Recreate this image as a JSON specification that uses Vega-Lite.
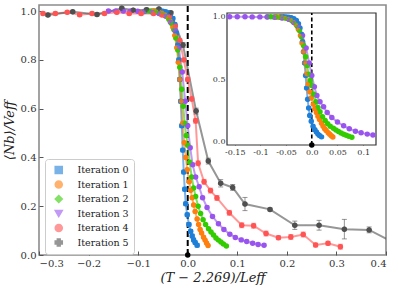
{
  "$schema": "https://vega.github.io/schema/vega-lite/v6.json",
  "width": 347,
  "height": 250,
  "autosize": {"type": "none"},
  "padding": {"left": 39, "top": 5, "right": 13, "bottom": 36},
  "background": "white",
  "config": {
    "view": {"stroke": "#8c8c8c", "strokeWidth": 1.6},
    "axis": {"grid": false, "labelFont": "DejaVu Serif", "titleFont": "DejaVu Serif", "labelColor": "#333", "titleColor": "#222", "tickColor": "#555", "domain": false, "labelFontSize": 10}
  },
  "datasets": {
    "d": [
      {"s": "Iteration 0", "x": -0.060, "y": 1.0, "e": 0},
      {"s": "Iteration 0", "x": -0.055, "y": 1.0, "e": 0},
      {"s": "Iteration 0", "x": -0.050, "y": 0.999, "e": 0},
      {"s": "Iteration 0", "x": -0.045, "y": 0.997, "e": 0},
      {"s": "Iteration 0", "x": -0.040, "y": 0.993, "e": 0},
      {"s": "Iteration 0", "x": -0.035, "y": 0.985, "e": 0},
      {"s": "Iteration 0", "x": -0.030, "y": 0.97, "e": 0},
      {"s": "Iteration 0", "x": -0.026, "y": 0.945, "e": 0},
      {"s": "Iteration 0", "x": -0.023, "y": 0.91, "e": 0},
      {"s": "Iteration 0", "x": -0.020, "y": 0.86, "e": 0},
      {"s": "Iteration 0", "x": -0.018, "y": 0.80, "e": 0},
      {"s": "Iteration 0", "x": -0.016, "y": 0.72, "e": 0},
      {"s": "Iteration 0", "x": -0.014, "y": 0.63, "e": 0},
      {"s": "Iteration 0", "x": -0.012, "y": 0.53, "e": 0},
      {"s": "Iteration 0", "x": -0.010, "y": 0.43, "e": 0},
      {"s": "Iteration 0", "x": -0.008, "y": 0.34, "e": 0},
      {"s": "Iteration 0", "x": -0.006, "y": 0.27, "e": 0},
      {"s": "Iteration 0", "x": -0.004, "y": 0.21, "e": 0},
      {"s": "Iteration 0", "x": -0.001, "y": 0.165, "e": 0},
      {"s": "Iteration 0", "x": 0.0025, "y": 0.125, "e": 0},
      {"s": "Iteration 0", "x": 0.006, "y": 0.097, "e": 0},
      {"s": "Iteration 0", "x": 0.009, "y": 0.078, "e": 0},
      {"s": "Iteration 0", "x": 0.012, "y": 0.062, "e": 0},
      {"s": "Iteration 0", "x": 0.015, "y": 0.051, "e": 0},
      {"s": "Iteration 0", "x": 0.019, "y": 0.040, "e": 0},

      {"s": "Iteration 1", "x": -0.070, "y": 1.0, "e": 0},
      {"s": "Iteration 1", "x": -0.064, "y": 0.999, "e": 0},
      {"s": "Iteration 1", "x": -0.058, "y": 0.997, "e": 0},
      {"s": "Iteration 1", "x": -0.052, "y": 0.993, "e": 0},
      {"s": "Iteration 1", "x": -0.046, "y": 0.986, "e": 0},
      {"s": "Iteration 1", "x": -0.040, "y": 0.975, "e": 0},
      {"s": "Iteration 1", "x": -0.035, "y": 0.96, "e": 0},
      {"s": "Iteration 1", "x": -0.030, "y": 0.935, "e": 0},
      {"s": "Iteration 1", "x": -0.026, "y": 0.90, "e": 0},
      {"s": "Iteration 1", "x": -0.022, "y": 0.85, "e": 0},
      {"s": "Iteration 1", "x": -0.019, "y": 0.79, "e": 0},
      {"s": "Iteration 1", "x": -0.016, "y": 0.72, "e": 0},
      {"s": "Iteration 1", "x": -0.013, "y": 0.63, "e": 0},
      {"s": "Iteration 1", "x": -0.010, "y": 0.54, "e": 0},
      {"s": "Iteration 1", "x": -0.007, "y": 0.46, "e": 0},
      {"s": "Iteration 1", "x": -0.004, "y": 0.40, "e": 0},
      {"s": "Iteration 1", "x": -0.001, "y": 0.35, "e": 0},
      {"s": "Iteration 1", "x": 0.003, "y": 0.30, "e": 0},
      {"s": "Iteration 1", "x": 0.006, "y": 0.265, "e": 0},
      {"s": "Iteration 1", "x": 0.009, "y": 0.235, "e": 0},
      {"s": "Iteration 1", "x": 0.012, "y": 0.205, "e": 0},
      {"s": "Iteration 1", "x": 0.015, "y": 0.178, "e": 0},
      {"s": "Iteration 1", "x": 0.019, "y": 0.148, "e": 0},
      {"s": "Iteration 1", "x": 0.022, "y": 0.125, "e": 0},
      {"s": "Iteration 1", "x": 0.025, "y": 0.105, "e": 0},
      {"s": "Iteration 1", "x": 0.028, "y": 0.09, "e": 0},
      {"s": "Iteration 1", "x": 0.032, "y": 0.073, "e": 0},
      {"s": "Iteration 1", "x": 0.035, "y": 0.061, "e": 0},
      {"s": "Iteration 1", "x": 0.038, "y": 0.049, "e": 0},
      {"s": "Iteration 1", "x": 0.041, "y": 0.039, "e": 0},

      {"s": "Iteration 2", "x": -0.086, "y": 1.0, "e": 0},
      {"s": "Iteration 2", "x": -0.080, "y": 1.0, "e": 0},
      {"s": "Iteration 2", "x": -0.074, "y": 0.999, "e": 0},
      {"s": "Iteration 2", "x": -0.068, "y": 0.998, "e": 0},
      {"s": "Iteration 2", "x": -0.062, "y": 0.996, "e": 0},
      {"s": "Iteration 2", "x": -0.056, "y": 0.993, "e": 0},
      {"s": "Iteration 2", "x": -0.050, "y": 0.988, "e": 0},
      {"s": "Iteration 2", "x": -0.044, "y": 0.98, "e": 0},
      {"s": "Iteration 2", "x": -0.038, "y": 0.967, "e": 0},
      {"s": "Iteration 2", "x": -0.033, "y": 0.95, "e": 0},
      {"s": "Iteration 2", "x": -0.028, "y": 0.925, "e": 0},
      {"s": "Iteration 2", "x": -0.024, "y": 0.89, "e": 0},
      {"s": "Iteration 2", "x": -0.020, "y": 0.84, "e": 0},
      {"s": "Iteration 2", "x": -0.016, "y": 0.77, "e": 0},
      {"s": "Iteration 2", "x": -0.012, "y": 0.68, "e": 0},
      {"s": "Iteration 2", "x": -0.009, "y": 0.61, "e": 0},
      {"s": "Iteration 2", "x": -0.006, "y": 0.54, "e": 0},
      {"s": "Iteration 2", "x": -0.003, "y": 0.49, "e": 0},
      {"s": "Iteration 2", "x": 0.000, "y": 0.45, "e": 0},
      {"s": "Iteration 2", "x": 0.004, "y": 0.38, "e": 0},
      {"s": "Iteration 2", "x": 0.008, "y": 0.32, "e": 0},
      {"s": "Iteration 2", "x": 0.012, "y": 0.275, "e": 0},
      {"s": "Iteration 2", "x": 0.016, "y": 0.24, "e": 0},
      {"s": "Iteration 2", "x": 0.021, "y": 0.20, "e": 0},
      {"s": "Iteration 2", "x": 0.026, "y": 0.17, "e": 0},
      {"s": "Iteration 2", "x": 0.031, "y": 0.145, "e": 0},
      {"s": "Iteration 2", "x": 0.036, "y": 0.125, "e": 0},
      {"s": "Iteration 2", "x": 0.042, "y": 0.108, "e": 0},
      {"s": "Iteration 2", "x": 0.047, "y": 0.094, "e": 0},
      {"s": "Iteration 2", "x": 0.052, "y": 0.082, "e": 0},
      {"s": "Iteration 2", "x": 0.057, "y": 0.07, "e": 0},
      {"s": "Iteration 2", "x": 0.062, "y": 0.061, "e": 0},
      {"s": "Iteration 2", "x": 0.067, "y": 0.053, "e": 0},
      {"s": "Iteration 2", "x": 0.072, "y": 0.045, "e": 0},
      {"s": "Iteration 2", "x": 0.078, "y": 0.037, "e": 0},

      {"s": "Iteration 3", "x": -0.160, "y": 1.0, "e": 0},
      {"s": "Iteration 3", "x": -0.145, "y": 1.0, "e": 0},
      {"s": "Iteration 3", "x": -0.130, "y": 1.0, "e": 0},
      {"s": "Iteration 3", "x": -0.116, "y": 0.999, "e": 0},
      {"s": "Iteration 3", "x": -0.101, "y": 0.999, "e": 0},
      {"s": "Iteration 3", "x": -0.087, "y": 0.998, "e": 0},
      {"s": "Iteration 3", "x": -0.072, "y": 0.996, "e": 0},
      {"s": "Iteration 3", "x": -0.058, "y": 0.99, "e": 0},
      {"s": "Iteration 3", "x": -0.045, "y": 0.98, "e": 0},
      {"s": "Iteration 3", "x": -0.035, "y": 0.955, "e": 0},
      {"s": "Iteration 3", "x": -0.026, "y": 0.92, "e": 0},
      {"s": "Iteration 3", "x": -0.018, "y": 0.85, "e": 0},
      {"s": "Iteration 3", "x": -0.011, "y": 0.75, "e": 0},
      {"s": "Iteration 3", "x": -0.005, "y": 0.63, "e": 0},
      {"s": "Iteration 3", "x": 0.000, "y": 0.53, "e": 0},
      {"s": "Iteration 3", "x": 0.005, "y": 0.44, "e": 0},
      {"s": "Iteration 3", "x": 0.010, "y": 0.37, "e": 0},
      {"s": "Iteration 3", "x": 0.016, "y": 0.32, "e": 0},
      {"s": "Iteration 3", "x": 0.023, "y": 0.28, "e": 0},
      {"s": "Iteration 3", "x": 0.030, "y": 0.235, "e": 0},
      {"s": "Iteration 3", "x": 0.039, "y": 0.195, "e": 0},
      {"s": "Iteration 3", "x": 0.050, "y": 0.158, "e": 0},
      {"s": "Iteration 3", "x": 0.062, "y": 0.128, "e": 0},
      {"s": "Iteration 3", "x": 0.073, "y": 0.105, "e": 0},
      {"s": "Iteration 3", "x": 0.085, "y": 0.085, "e": 0},
      {"s": "Iteration 3", "x": 0.096, "y": 0.072, "e": 0},
      {"s": "Iteration 3", "x": 0.108, "y": 0.062, "e": 0},
      {"s": "Iteration 3", "x": 0.119, "y": 0.055, "e": 0},
      {"s": "Iteration 3", "x": 0.131, "y": 0.048, "e": 0},
      {"s": "Iteration 3", "x": 0.142, "y": 0.043, "e": 0},
      {"s": "Iteration 3", "x": 0.154, "y": 0.040, "e": 0},

      {"s": "Iteration 4", "x": -0.292, "y": 0.99, "e": 0.006},
      {"s": "Iteration 4", "x": -0.267, "y": 0.99, "e": 0.006},
      {"s": "Iteration 4", "x": -0.243, "y": 0.995, "e": 0.006},
      {"s": "Iteration 4", "x": -0.218, "y": 0.985, "e": 0.006},
      {"s": "Iteration 4", "x": -0.193, "y": 0.99, "e": 0.006},
      {"s": "Iteration 4", "x": -0.168, "y": 0.99, "e": 0.006},
      {"s": "Iteration 4", "x": -0.143, "y": 0.995, "e": 0.006},
      {"s": "Iteration 4", "x": -0.118, "y": 0.99, "e": 0.006},
      {"s": "Iteration 4", "x": -0.094, "y": 0.99, "e": 0.006},
      {"s": "Iteration 4", "x": -0.069, "y": 0.99, "e": 0.006},
      {"s": "Iteration 4", "x": -0.052, "y": 0.984, "e": 0.006},
      {"s": "Iteration 4", "x": -0.036, "y": 0.977, "e": 0.006},
      {"s": "Iteration 4", "x": -0.025, "y": 0.94, "e": 0.006},
      {"s": "Iteration 4", "x": -0.016, "y": 0.88, "e": 0.006},
      {"s": "Iteration 4", "x": -0.008, "y": 0.80, "e": 0.006},
      {"s": "Iteration 4", "x": 0.000, "y": 0.72, "e": 0.008},
      {"s": "Iteration 4", "x": 0.008, "y": 0.64, "e": 0.008},
      {"s": "Iteration 4", "x": 0.016, "y": 0.55, "e": 0.01},
      {"s": "Iteration 4", "x": 0.021, "y": 0.376, "e": 0.01},
      {"s": "Iteration 4", "x": 0.033, "y": 0.30, "e": 0.01},
      {"s": "Iteration 4", "x": 0.046, "y": 0.264, "e": 0.01},
      {"s": "Iteration 4", "x": 0.059, "y": 0.234, "e": 0.01},
      {"s": "Iteration 4", "x": 0.084, "y": 0.173, "e": 0.01},
      {"s": "Iteration 4", "x": 0.109, "y": 0.122, "e": 0.01},
      {"s": "Iteration 4", "x": 0.133, "y": 0.12, "e": 0.01},
      {"s": "Iteration 4", "x": 0.158, "y": 0.088, "e": 0.01},
      {"s": "Iteration 4", "x": 0.183, "y": 0.071, "e": 0.008},
      {"s": "Iteration 4", "x": 0.208, "y": 0.074, "e": 0.01},
      {"s": "Iteration 4", "x": 0.233, "y": 0.084, "e": 0.01},
      {"s": "Iteration 4", "x": 0.258, "y": 0.041, "e": 0.008},
      {"s": "Iteration 4", "x": 0.283, "y": 0.048, "e": 0.008},
      {"s": "Iteration 4", "x": 0.308, "y": 0.034, "e": 0.01},

      {"s": "Iteration 5", "x": -0.282, "y": 0.984, "e": 0.006},
      {"s": "Iteration 5", "x": -0.232, "y": 0.997, "e": 0.006},
      {"s": "Iteration 5", "x": -0.183, "y": 0.986, "e": 0.006},
      {"s": "Iteration 5", "x": -0.133, "y": 1.012, "e": 0.006},
      {"s": "Iteration 5", "x": -0.110, "y": 1.004, "e": 0.006},
      {"s": "Iteration 5", "x": -0.083, "y": 1.006, "e": 0.006},
      {"s": "Iteration 5", "x": -0.058, "y": 1.009, "e": 0.006},
      {"s": "Iteration 5", "x": -0.034, "y": 0.993, "e": 0.006},
      {"s": "Iteration 5", "x": -0.0095, "y": 0.861, "e": 0.01},
      {"s": "Iteration 5", "x": 0.017, "y": 0.59, "e": 0.012},
      {"s": "Iteration 5", "x": 0.0415, "y": 0.385, "e": 0.012},
      {"s": "Iteration 5", "x": 0.0665, "y": 0.294, "e": 0.015},
      {"s": "Iteration 5", "x": 0.0907, "y": 0.277, "e": 0.012},
      {"s": "Iteration 5", "x": 0.1155, "y": 0.209, "e": 0.027},
      {"s": "Iteration 5", "x": 0.166, "y": 0.187, "e": 0.006},
      {"s": "Iteration 5", "x": 0.216, "y": 0.122, "e": 0.017},
      {"s": "Iteration 5", "x": 0.265, "y": 0.122, "e": 0.02},
      {"s": "Iteration 5", "x": 0.316, "y": 0.106, "e": 0.04},
      {"s": "Iteration 5", "x": 0.366, "y": 0.103, "e": 0.012},
      {"s": "Iteration 5", "x": 0.4165, "y": 0.05, "e": 0.01}
    ]
  },
  "data": {"name": "d"},
  "resolve": {"scale": {"x": "independent", "y": "independent"}, "axis": {"x": "independent", "y": "independent"}},
  "layer": [
    {
      "encoding": {
        "x": {"field": "x", "type": "quantitative", "scale": {"domain": [-0.3, 0.4], "nice": false, "zero": false},
          "axis": {"values": [-0.3, -0.2, -0.1, 0, 0.1, 0.2, 0.3, 0.4], "format": ".1f", "tickSize": -4, "labelPadding": 7, "labelOverlap": false, "title": "(T − 2.269)/Leff", "titleFontStyle": "italic", "titleFontWeight": "normal", "titleFontSize": 13, "titlePadding": 3}},
        "y": {"field": "y", "type": "quantitative", "scale": {"domain": [0, 1.025], "nice": false, "zero": false},
          "axis": {"values": [0, 0.2, 0.4, 0.6, 0.8, 1.0], "format": ".1f", "tickSize": -4, "labelPadding": 7, "title": "⟨Nb⟩/Veff", "titleFontStyle": "italic", "titleFontWeight": "normal", "titleFontSize": 13, "titlePadding": 4}},
        "color": {"field": "s", "type": "nominal", "scale": {"domain": ["Iteration 0", "Iteration 1", "Iteration 2", "Iteration 3", "Iteration 4", "Iteration 5"], "range": ["#1f7fd8", "#ff7f0e", "#33cc00", "#9955ee", "#ff5555", "#505050"]},
          "legend": {"title": null, "orient": "none", "legendX": 6, "legendY": 154, "padding": 5, "fillColor": "white", "strokeColor": "#cccccc", "cornerRadius": 3, "labelFont": "DejaVu Serif", "labelFontSize": 9.5, "labelColor": "#222", "rowPadding": 2.5, "clipHeight": 12, "symbolSize": 50, "symbolStrokeWidth": 1.5, "symbolOffset": 4, "labelOffset": 14}},
        "shape": {"field": "s", "type": "nominal", "scale": {"domain": ["Iteration 0", "Iteration 1", "Iteration 2", "Iteration 3", "Iteration 4", "Iteration 5"], "range": ["square", "circle", "diamond", "triangle-down", "circle", "cross"]}, "legend": null}
      },
      "layer": [
        {"transform": [{"filter": "datum.s == 'Iteration 0' && datum.x == -0.06"}], "mark": {"type": "rule", "color": "black", "strokeDash": [6, 3], "strokeWidth": 2}, "encoding": {"x": {"datum": 0}, "y": {"datum": 0}, "y2": {"datum": 1.025}, "color": {"value": "black"}, "shape": {"value": "circle"}}},
        {"mark": {"type": "line", "strokeWidth": 2, "opacity": 0.6, "clip": true}, "encoding": {"shape": {"value": "circle"}}},
        {"transform": [{"filter": "datum.e > 0"}], "mark": {"type": "errorbar", "ticks": true, "clip": true, "opacity": 0.6}, "encoding": {"yError": {"field": "e"}, "shape": {"value": "circle"}}},
        {"mark": {"type": "point", "filled": true, "size": 22, "opacity": 0.85, "clip": true}}
      ]
    },
    {
      "transform": [{"filter": "datum.s == 'Iteration 0' || datum.s == 'Iteration 1' || datum.s == 'Iteration 2' || datum.s == 'Iteration 3'"}, {"filter": "datum.x <= 0.125 && datum.x >= -0.165"}],
      "encoding": {
        "x": {"field": "x", "type": "quantitative", "scale": {"domain": [-0.165, 0.125], "range": [188, 337], "nice": false, "zero": false},
          "axis": {"orient": "bottom", "offset": -110, "values": [-0.15, -0.1, -0.05, 0, 0.05, 0.1], "labelExpr": "datum.value == 0 ? '0.0' : replace(format(datum.value, '~g'), '−', '-')", "labelFontSize": 8, "labelOverlap": false, "tickSize": -3, "labelPadding": 6, "title": null}},
        "y": {"field": "y", "type": "quantitative", "scale": {"domain": [-0.025, 1.03], "range": [140, 8], "nice": false, "zero": false},
          "axis": {"orient": "left", "offset": -188, "values": [0, 0.5, 1.0], "format": ".1f", "labelFontSize": 8, "tickSize": -3, "labelPadding": 5, "title": null}},
        "color": {"field": "s", "type": "nominal", "legend": null},
        "shape": {"field": "s", "type": "nominal", "legend": null}
      },
      "layer": [
        {"transform": [{"filter": "datum.s == 'Iteration 0' && datum.x == -0.06"}], "mark": {"type": "rect", "fill": "white", "stroke": "#333333", "strokeWidth": 1.2}, "encoding": {"x": {"datum": -0.165}, "x2": {"datum": 0.125}, "y": {"datum": -0.025}, "y2": {"datum": 1.03}, "color": {"value": "white"}, "shape": {"value": "circle"}}},
        {"transform": [{"filter": "datum.s == 'Iteration 0' && datum.x == -0.06"}], "mark": {"type": "rule", "color": "black", "strokeDash": [4, 2.5], "strokeWidth": 1.6}, "encoding": {"x": {"datum": 0}, "y": {"datum": -0.025}, "y2": {"datum": 1.03}, "color": {"value": "black"}, "shape": {"value": "circle"}}},
        {"mark": {"type": "line", "strokeWidth": 2, "opacity": 0.6}, "encoding": {"shape": {"value": "circle"}}},
        {"mark": {"type": "point", "filled": true, "size": 14, "opacity": 0.85}}
      ]
    }
  ]
}
